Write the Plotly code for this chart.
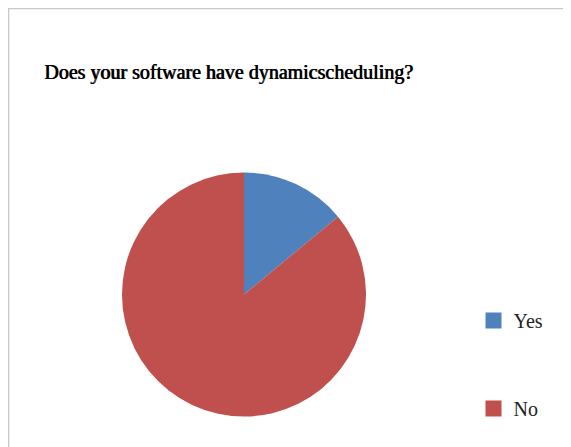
import plotly.graph_objects as go

# Data
labels = ["Yes", "No"]
values = [14, 86]
colors = ["#4F81BD", "#C0504D"]
title_text = "Does your software have dynamicscheduling?"

W, H = 571, 447
OFF = 8  # default page body margin in the written HTML

fig = go.Figure()

cx, cy, D = 244 - OFF, 294.5 - OFF, 244
fig.add_trace(go.Pie(
    labels=labels,
    values=values,
    marker=dict(colors=colors, line=dict(width=0)),
    sort=False,
    direction="clockwise",
    rotation=0,
    textinfo="none",
    hoverinfo="label+percent",
    showlegend=False,
    domain=dict(x=[(cx - D / 2) / W, (cx + D / 2) / W],
                y=[(H - cy - D / 2) / H, (H - cy + D / 2) / H]),
))

# legend entries (one group per category so they can be spaced apart)
for lab, col in zip(labels, colors):
    fig.add_trace(go.Scatter(
        x=[None], y=[None], mode="markers", name=lab, legendgroup=lab,
        marker=dict(symbol="square", size=16, color=col),
        showlegend=True, hoverinfo="skip",
    ))

fig.update_layout(
    width=W, height=H,
    margin=dict(l=0, r=0, t=0, b=0),
    paper_bgcolor="white",
    plot_bgcolor="white",
    xaxis=dict(visible=False),
    yaxis=dict(visible=False),
    title=dict(
        text=title_text,
        font=dict(family="Liberation Serif", size=20, color="#000000",
                  shadow="0.8px 0 0 #000"),
        x=(44 - OFF) / W, xanchor="left", xref="paper",
        y=1 - (72 - OFF) / H, yanchor="middle", yref="container",
    ),
    legend=dict(
        x=(473.5 - OFF) / W, xanchor="left",
        y=1 - (301 - OFF) / H, yanchor="top",
        font=dict(family="Liberation Serif", size=20, color="#222222"),
        traceorder="grouped",
        tracegroupgap=59,
        bgcolor="rgba(0,0,0,0)",
    ),
    shapes=[dict(
        type="rect", xref="paper", yref="paper",
        x0=0.5 / W, x1=1.2, y0=-0.2, y1=1 - 0.5 / H,
        line=dict(color="#C8C8C8", width=1.5),
        fillcolor="rgba(0,0,0,0)", layer="below",
    )],
)

fig.write_html("out.html")
